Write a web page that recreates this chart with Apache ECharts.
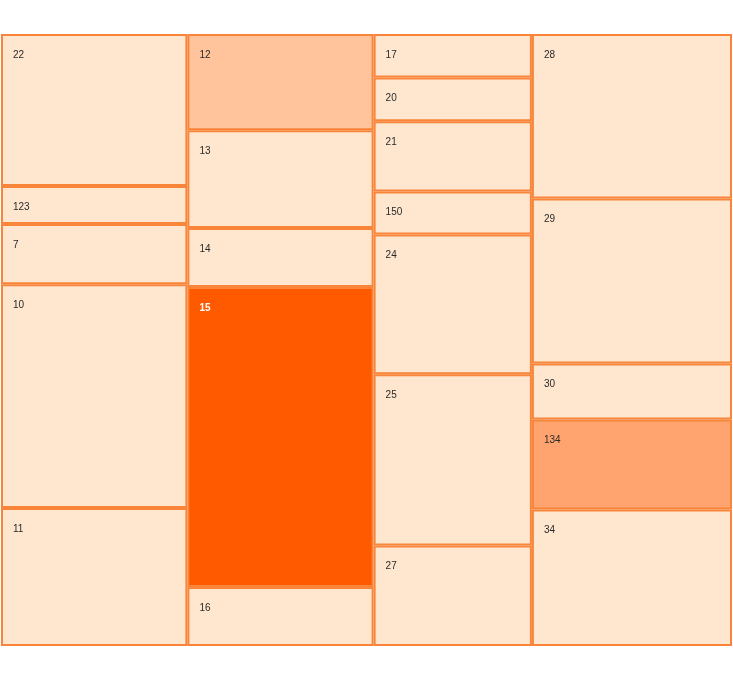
<!DOCTYPE html>
<html>
<head>
<meta charset="utf-8">
<script src="https://cdn.jsdelivr.net/npm/echarts@6/dist/echarts.min.js"></script>
<style>html,body{margin:0;padding:0;background:#fff;}#chart{width:733px;height:679px;}</style>
</head>
<body>
<div id="chart"></div>
<script>
// Columns of the treemap (slice-dice): cell labels, cell values (area), colour level
const col1Labels = ['22', '123', '7', '10', '11'];
const col1Values = [283, 71, 112, 417, 257];
const col1Levels = [0, 0, 0, 0, 0];

const col2Labels = ['12', '13', '14', '15', '16'];
const col2Values = [179, 182, 110, 558, 110];
const col2Levels = [1, 0, 0, 3, 0];

const col3Labels = ['17', '20', '21', '150', '24', '25', '27'];
const col3Values = [69, 69, 111, 68, 221, 271, 159];
const col3Levels = [0, 0, 0, 0, 0, 0, 0];

const col4Labels = ['28', '29', '30', '134', '34'];
const col4Values = [329, 330, 112, 180, 273];
const col4Levels = [0, 0, 0, 2, 0];

const columns = [
  { labels: col1Labels, values: col1Values, levels: col1Levels },
  { labels: col2Labels, values: col2Values, levels: col2Levels },
  { labels: col3Labels, values: col3Values, levels: col3Levels },
  { labels: col4Labels, values: col4Values, levels: col4Levels }
];

const palette = ['#FFE6CE', '#FFC49B', '#FFA46E', '#FF5A00'];

// build data: [x0, x1, y0, y1, level, label] in data units (x: cumulative value, y: fraction of column)
const data = [];
let xCum = 0;
let total = 0;
columns.forEach(c => { total += c.values.reduce((a, b) => a + b, 0); });
columns.forEach(c => {
  const sum = c.values.reduce((a, b) => a + b, 0);
  let yCum = 0;
  c.values.forEach((v, i) => {
    data.push([xCum, xCum + sum, yCum / sum, (yCum + v) / sum, c.levels[i], c.labels[i]]);
    yCum += v;
  });
  xCum += sum;
});

const chart = echarts.init(document.getElementById('chart'), null, { renderer: 'canvas' });
chart.setOption({
  animation: false,
  grid: { left: 1, right: 1, top: 34, bottom: 33 },
  xAxis: { type: 'value', min: 0, max: total, show: false },
  yAxis: { type: 'value', min: 0, max: 1, inverse: true, show: false },
  series: [{
    type: 'custom',
    data: data,
    renderItem: function (params, api) {
      const p0 = api.coord([api.value(0), api.value(2)]);
      const p1 = api.coord([api.value(1), api.value(3)]);
      const level = api.value(4);
      const label = data[params.dataIndex][5];
      const inset = 1;
      const x = p0[0] + inset, y = p0[1] + inset;
      const w = p1[0] - p0[0] - 2 * inset, h = p1[1] - p0[1] - 2 * inset;
      return {
        type: 'group',
        children: [
          {
            type: 'rect',
            shape: { x: x, y: y, width: w, height: h },
            style: { fill: palette[level], stroke: '#F8853A', lineWidth: 2 }
          },
          {
            type: 'text',
            style: {
              x: x + 11, y: y + 20,
              text: label,
              fill: level === 3 ? '#ffffff' : '#2a2a2a',
              font: (level === 3 ? 'bold ' : '') + '10px "Liberation Sans", Arial, sans-serif',
              verticalAlign: 'middle',
              align: 'left'
            }
          }
        ]
      };
    }
  }]
});
</script>
</body>
</html>
